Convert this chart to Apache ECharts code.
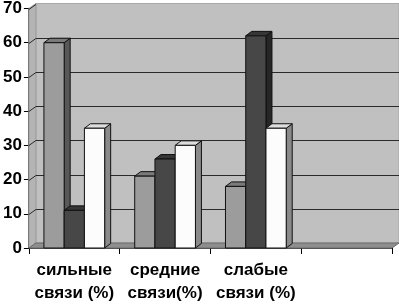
<!DOCTYPE html>
<html>
<head>
<meta charset="utf-8">
<script src="https://cdn.jsdelivr.net/npm/echarts@6/dist/echarts.min.js"></script>
<style>
  html, body { margin: 0; padding: 0; background: #fff; }
  #main { width: 399px; height: 305px; }
</style>
</head>
<body>
<div id="main"></div>
<script>
// data
var categories = ['сильные\nсвязи (%)', 'средние\nсвязи(%)', 'слабые\nсвязи (%)', ''];
var seriesLight = [60, 21, 18, null];
var seriesDark = [11, 26, 62, null];
var seriesWhite = [35, 30, 35, null];
var yTicks = [0, 10, 20, 30, 40, 50, 60, 70];

// 3d look
var wallDx = 7, wallDy = -5;
var barDx = 6, barDy = -4.5;
var faces = [
  { front: '#9c9c9c', side: '#585858', top: '#7a7a7a' },
  { front: '#474747', side: '#262626', top: '#363636' },
  { front: '#fcfcfc', side: '#8a8a8a', top: '#dedede' }
];

function renderWalls(params, api) {
  var cs = params.coordSys;
  var x = cs.x, y = cs.y, w = cs.width, h = cs.height;
  var kids = [];
  // back wall
  kids.push({ type: 'rect', shape: { x: x + wallDx, y: y + wallDy, width: w, height: h },
    style: { fill: '#c0c0c0', stroke: '#a8a8a8', lineWidth: 1 } });
  // left side wall
  kids.push({ type: 'polygon', shape: { points: [[x, y], [x + wallDx, y + wallDy], [x + wallDx, y + h + wallDy], [x, y + h]] },
    style: { fill: '#b4b4b4', stroke: '#9a9a9a', lineWidth: 1 } });
  // grid lines on back and side wall
  for (var i = 1; i < yTicks.length; i++) {
    var yy = Math.round(api.coord([0, yTicks[i]])[1]) + 0.5;
    if (i < yTicks.length - 1) {
      kids.push({ type: 'line', shape: { x1: x + wallDx, y1: yy + wallDy, x2: x + w + wallDx, y2: yy + wallDy },
        style: { stroke: '#2a2a2a', lineWidth: 1 } });
    }
    kids.push({ type: 'line', shape: { x1: x, y1: yy, x2: x + wallDx, y2: yy + wallDy },
      style: { stroke: '#2a2a2a', lineWidth: 1 } });
  }
  // floor
  var yb = y + h;
  kids.push({ type: 'polygon', shape: { points: [[x, yb], [x + w, yb], [x + w + wallDx, yb + wallDy], [x + wallDx, yb + wallDy]] },
    style: { fill: '#8e8e8e', stroke: '#6a6a6a', lineWidth: 1 } });
  return { type: 'group', children: kids };
}

function makeBarRenderer(k) {
  return function (params, api) {
    var v = api.value(1);
    if (v == null || isNaN(v)) return;
    var band = api.size([1, 0])[0];
    var bw = band * 0.223;
    var top = api.coord([api.value(0), v]);
    var base = api.coord([api.value(0), 0]);
    var x0 = top[0] + (k - 1.5) * bw;
    var x1 = x0 + bw;
    var yt = top[1], yb = base[1];
    var c = faces[k];
    var st = { stroke: '#111', lineWidth: 1 };
    return {
      type: 'group',
      children: [
        { type: 'polygon', shape: { points: [[x1, yt], [x1 + barDx, yt + barDy], [x1 + barDx, yb + barDy], [x1, yb]] },
          style: Object.assign({ fill: c.side }, st) },
        { type: 'polygon', shape: { points: [[x0, yt], [x0 + barDx, yt + barDy], [x1 + barDx, yt + barDy], [x1, yt]] },
          style: Object.assign({ fill: c.top }, st) },
        { type: 'rect', shape: { x: x0, y: yt, width: bw, height: yb - yt },
          style: Object.assign({ fill: c.front }, st) }
      ]
    };
  };
}

function toData(arr) {
  return arr.map(function (v, i) { return [i, v]; });
}

var chart = echarts.init(document.getElementById('main'), null, { renderer: 'canvas' });
chart.setOption({
  animation: false,
  backgroundColor: '#fff',
  grid: { left: 27, right: 7, top: 7, bottom: 55, containLabel: false },
  xAxis: {
    type: 'category',
    data: categories,
    boundaryGap: true,
    axisLine: { show: true, lineStyle: { color: '#000', width: 1.5 } },
    axisTick: { show: true, alignWithLabel: false, length: 6, lineStyle: { color: '#000' } },
    axisLabel: {
      interval: 0, margin: 11, color: '#000',
      fontFamily: 'Liberation Sans, Arial, sans-serif', fontWeight: 'bold', fontSize: 17, lineHeight: 23
    },
    splitLine: { show: false }
  },
  yAxis: {
    type: 'value',
    min: 0, max: 70, interval: 10,
    axisLine: { show: true, lineStyle: { color: '#000', width: 1.5 } },
    axisTick: { show: true, inside: false, length: 5, lineStyle: { color: '#000' } },
    axisLabel: {
      margin: 7, color: '#000',
      fontFamily: 'Liberation Sans, Arial, sans-serif', fontWeight: 'bold', fontSize: 17
    },
    splitLine: { show: false }
  },
  series: [
    { type: 'custom', renderItem: renderWalls, data: [[0, 0]], z: 1, silent: true },
    { type: 'custom', renderItem: makeBarRenderer(0), data: toData(seriesLight), z: 2 },
    { type: 'custom', renderItem: makeBarRenderer(1), data: toData(seriesDark), z: 2 },
    { type: 'custom', renderItem: makeBarRenderer(2), data: toData(seriesWhite), z: 2 }
  ]
});
</script>
</body>
</html>
